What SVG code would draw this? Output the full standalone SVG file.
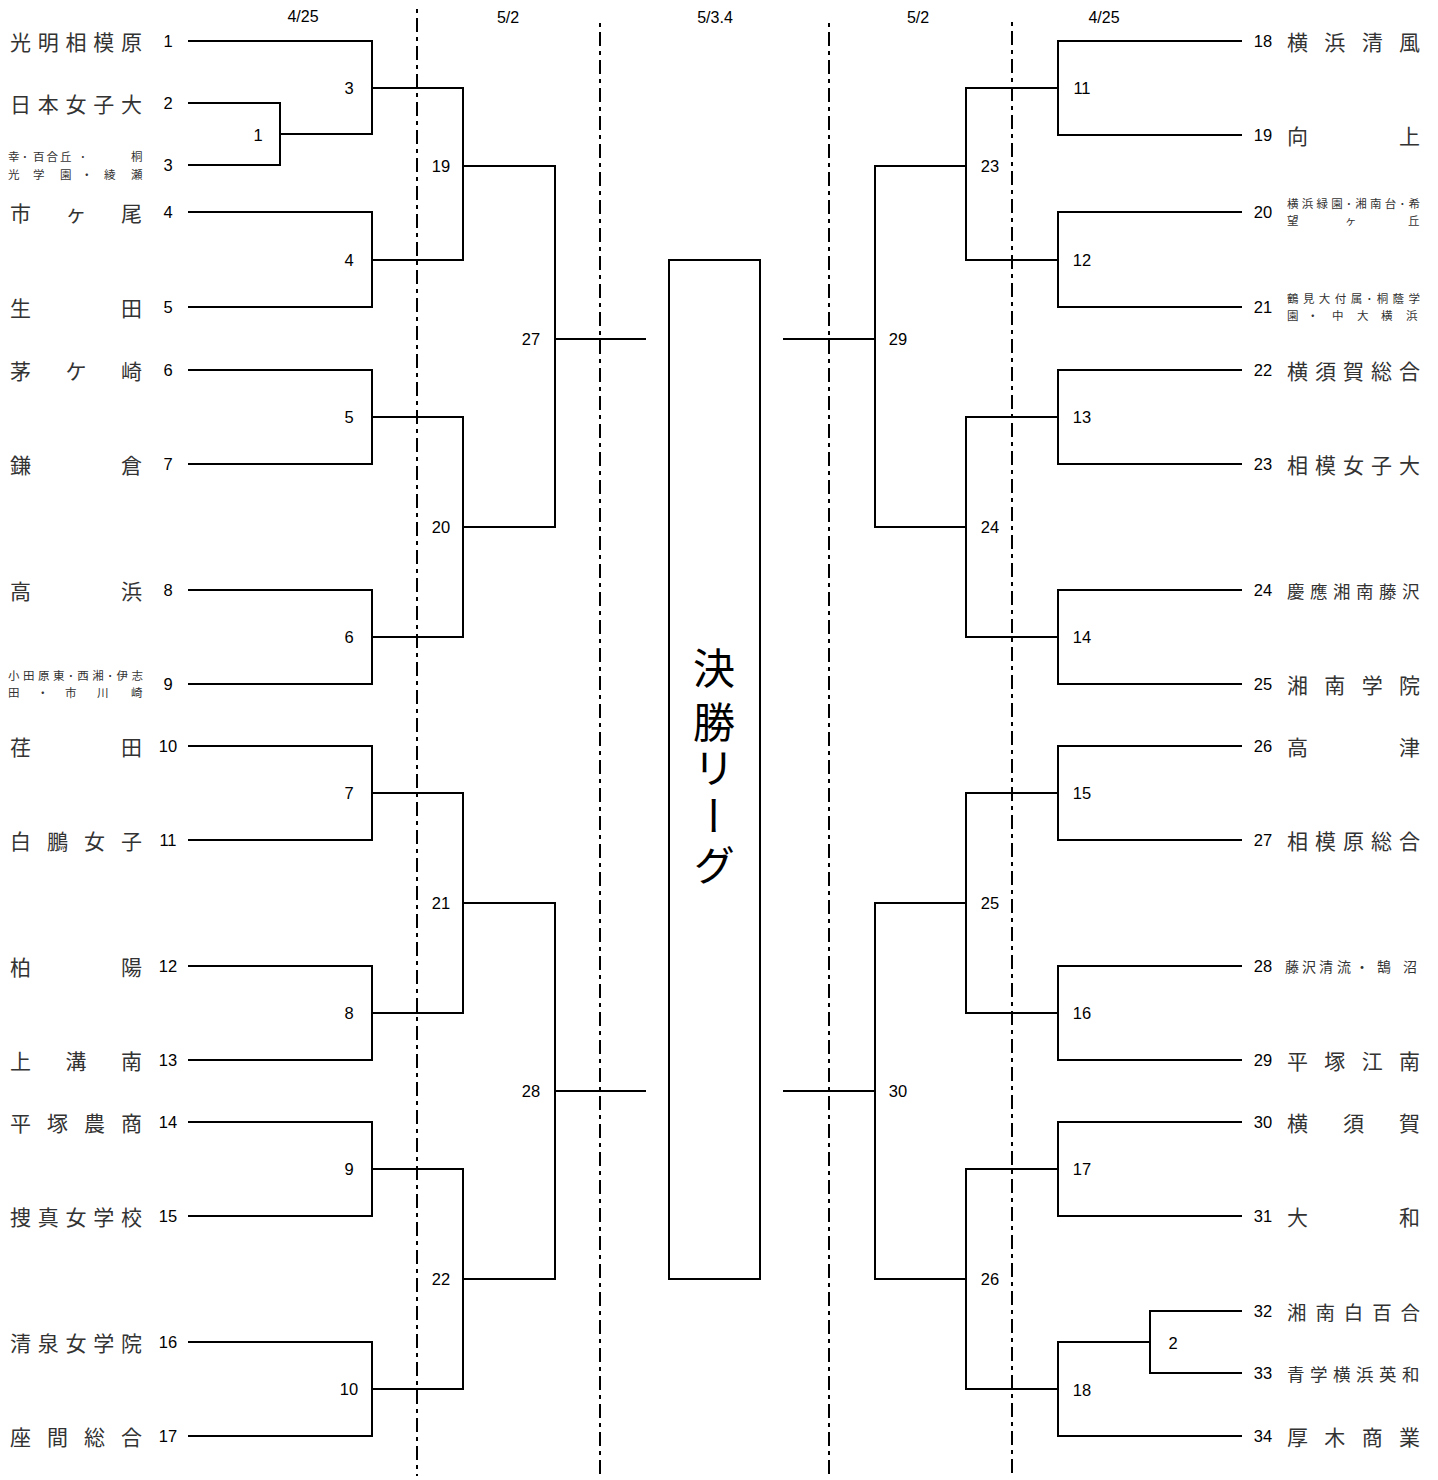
<svg xmlns="http://www.w3.org/2000/svg" width="1438" height="1480" viewBox="0 0 1438 1480">
<style>
.ln{fill:none;stroke:#000;stroke-width:2}
.dd{fill:none;stroke:#000;stroke-width:2;stroke-dasharray:4 5 14 5}
.num{font-family:"Liberation Sans",Arial,sans-serif;font-size:16.5px;fill:#000;text-anchor:middle;dominant-baseline:central}
.nm{font-family:"Noto Sans CJK JP","Noto Sans CJK SC",sans-serif;font-size:21px;fill:#333;dominant-baseline:central}
.sm{font-family:"Noto Sans CJK JP","Noto Sans CJK SC",sans-serif;font-size:11.5px;fill:#333;dominant-baseline:central}
.hd{font-family:"Liberation Sans",Arial,sans-serif;font-size:16px;fill:#000;text-anchor:middle;dominant-baseline:central}
</style>
<rect width="1438" height="1480" fill="#fff"/>
<g id="round-lines">
<path class="dd" d="M417 9V1476"/>
<path class="dd" d="M600 23V1476"/>
<path class="dd" d="M829 23V1476"/>
<path class="dd" d="M1012 22V1476"/>
</g>
<g id="headers">
<text class="hd" x="303" y="16">4/25</text>
<text class="hd" x="508" y="17">5/2</text>
<text class="hd" x="715" y="17">5/3.4</text>
<text class="hd" x="918" y="17">5/2</text>
<text class="hd" x="1104" y="17">4/25</text>
</g>
<g id="connectors">
<path class="ln" d="M188 41H372V134H280"/>
<path class="ln" d="M188 103H280V165H188"/>
<path class="ln" d="M188 212H372V307H188"/>
<path class="ln" d="M372 88H463V260H372"/>
<path class="ln" d="M463 166H555V527H463"/>
<path class="ln" d="M555 339H646"/>
<path class="ln" d="M188 370H372V464H188"/>
<path class="ln" d="M188 590H372V684H188"/>
<path class="ln" d="M372 417H463V637H372"/>
<path class="ln" d="M188 746H372V840H188"/>
<path class="ln" d="M188 966H372V1060H188"/>
<path class="ln" d="M372 793H463V1013H372"/>
<path class="ln" d="M188 1122H372V1216H188"/>
<path class="ln" d="M188 1342H372V1436H188"/>
<path class="ln" d="M372 1169H463V1389H372"/>
<path class="ln" d="M463 903H555V1279H463"/>
<path class="ln" d="M555 1091H646"/>
<path class="ln" d="M1242 41H1058V135H1242"/>
<path class="ln" d="M1242 212H1058V307H1242"/>
<path class="ln" d="M1058 88H966V260H1058"/>
<path class="ln" d="M966 166H875V527H966"/>
<path class="ln" d="M875 339H783"/>
<path class="ln" d="M1242 370H1058V464H1242"/>
<path class="ln" d="M1242 590H1058V684H1242"/>
<path class="ln" d="M1058 417H966V637H1058"/>
<path class="ln" d="M1242 746H1058V840H1242"/>
<path class="ln" d="M1242 966H1058V1060H1242"/>
<path class="ln" d="M1058 793H966V1013H1058"/>
<path class="ln" d="M966 903H875V1279H966"/>
<path class="ln" d="M875 1091H783"/>
<path class="ln" d="M1242 1122H1058V1216H1242"/>
<path class="ln" d="M1242 1311H1150V1373H1242"/>
<path class="ln" d="M1150 1342H1058V1436H1242"/>
<path class="ln" d="M1058 1169H966V1389H1058"/>
</g>
<g id="final-league">
<rect x="669" y="260" width="91" height="1019" fill="#fff" stroke="#000" stroke-width="2"/>
<text x="714" y="647 701 747 795 844" style="writing-mode:vertical-rl" font-family="'Noto Sans CJK JP','Noto Sans CJK SC',sans-serif" font-size="42" fill="#000">決勝リーグ</text>
</g>
<g id="match-labels">
<text class="num" x="258" y="135">1</text>
<text class="num" x="349" y="88">3</text>
<text class="num" x="349" y="260">4</text>
<text class="num" x="349" y="417">5</text>
<text class="num" x="349" y="637">6</text>
<text class="num" x="349" y="793">7</text>
<text class="num" x="349" y="1013">8</text>
<text class="num" x="349" y="1169">9</text>
<text class="num" x="349" y="1389">10</text>
<text class="num" x="441" y="166">19</text>
<text class="num" x="441" y="527">20</text>
<text class="num" x="441" y="903">21</text>
<text class="num" x="441" y="1279">22</text>
<text class="num" x="531" y="339">27</text>
<text class="num" x="531" y="1091">28</text>
<text class="num" x="1082" y="88">11</text>
<text class="num" x="1082" y="260">12</text>
<text class="num" x="1082" y="417">13</text>
<text class="num" x="1082" y="637">14</text>
<text class="num" x="1082" y="793">15</text>
<text class="num" x="1082" y="1013">16</text>
<text class="num" x="1082" y="1169">17</text>
<text class="num" x="1082" y="1390">18</text>
<text class="num" x="1173" y="1343">2</text>
<text class="num" x="990" y="166">23</text>
<text class="num" x="990" y="527">24</text>
<text class="num" x="990" y="903">25</text>
<text class="num" x="990" y="1279">26</text>
<text class="num" x="898" y="339">29</text>
<text class="num" x="898" y="1091">30</text>
</g>
<g id="team-1"><text class="nm" x="10 37.75 65.5 93.25 121" y="41">光明相模原</text><text class="num" x="168" y="41">1</text></g>
<g id="team-2"><text class="nm" x="10 37.75 65.5 93.25 121" y="103">日本女子大</text><text class="num" x="168" y="103">2</text></g>
<g id="team-3"><text class="sm" x="8 22 33 46.5 60 80 131" y="156">幸･百合丘･桐</text><text class="sm" x="8 33 60 81 104 131" y="173.5">光学園・綾瀬</text><text class="num" x="168" y="165">3</text></g>
<g id="team-4"><text class="nm" x="10 65.5 121" y="212">市ヶ尾</text><text class="num" x="168" y="212">4</text></g>
<g id="team-5"><text class="nm" x="10 121" y="307">生田</text><text class="num" x="168" y="307">5</text></g>
<g id="team-6"><text class="nm" x="10 65.5 121" y="370">茅ケ崎</text><text class="num" x="168" y="370">6</text></g>
<g id="team-7"><text class="nm" x="10 121" y="464">鎌倉</text><text class="num" x="168" y="464">7</text></g>
<g id="team-8"><text class="nm" x="10 121" y="590">高浜</text><text class="num" x="168" y="590">8</text></g>
<g id="team-9"><text class="sm" x="8" y="674.5" textLength="135" lengthAdjust="spacing">小田原東･西湘･伊志</text><text class="sm" x="8 37 65 97 131" y="692">田・市川崎</text><text class="num" x="168" y="684">9</text></g>
<g id="team-10"><text class="nm" x="10 121" y="746">荏田</text><text class="num" x="168" y="746">10</text></g>
<g id="team-11"><text class="nm" x="10 47 84 121" y="840">白鵬女子</text><text class="num" x="168" y="840">11</text></g>
<g id="team-12"><text class="nm" x="10 121" y="966">柏陽</text><text class="num" x="168" y="966">12</text></g>
<g id="team-13"><text class="nm" x="10 65.5 121" y="1060">上溝南</text><text class="num" x="168" y="1060">13</text></g>
<g id="team-14"><text class="nm" x="10 47 84 121" y="1122">平塚農商</text><text class="num" x="168" y="1122">14</text></g>
<g id="team-15"><text class="nm" x="10 37.75 65.5 93.25 121" y="1216">捜真女学校</text><text class="num" x="168" y="1216">15</text></g>
<g id="team-16"><text class="nm" x="10 37.75 65.5 93.25 121" y="1342">清泉女学院</text><text class="num" x="168" y="1342">16</text></g>
<g id="team-17"><text class="nm" x="10 47 84 121" y="1436">座間総合</text><text class="num" x="168" y="1436">17</text></g>
<g id="team-18"><text class="num" x="1263" y="41">18</text><text class="nm" x="1287 1324.3 1361.7 1399" y="41">横浜清風</text></g>
<g id="team-19"><text class="num" x="1263" y="135">19</text><text class="nm" x="1287 1399" y="135">向上</text></g>
<g id="team-20"><text class="num" x="1263" y="212">20</text><text class="sm" x="1287" y="202.5" textLength="133" lengthAdjust="spacing">横浜緑園･湘南台･希</text><text class="sm" x="1287 1345 1408" y="220">望ヶ丘</text></g>
<g id="team-21"><text class="num" x="1263" y="307">21</text><text class="sm" x="1287" y="297.5" textLength="133" lengthAdjust="spacing">鶴見大付属･桐蔭学</text><text class="sm" x="1287 1307 1332 1357 1381 1406" y="315">園・中大横浜</text></g>
<g id="team-22"><text class="num" x="1263" y="370">22</text><text class="nm" x="1287 1315 1343 1371 1399" y="370">横須賀総合</text></g>
<g id="team-23"><text class="num" x="1263" y="464">23</text><text class="nm" x="1287 1315 1343 1371 1399" y="464">相模女子大</text></g>
<g id="team-24"><text class="num" x="1263" y="590">24</text><text class="nm" style="font-size:17.5px" x="1287 1310 1333 1356 1379 1402" y="590">慶應湘南藤沢</text></g>
<g id="team-25"><text class="num" x="1263" y="684">25</text><text class="nm" x="1287 1324.3 1361.7 1399" y="684">湘南学院</text></g>
<g id="team-26"><text class="num" x="1263" y="746">26</text><text class="nm" x="1287 1399" y="746">高津</text></g>
<g id="team-27"><text class="num" x="1263" y="840">27</text><text class="nm" x="1287 1315 1343 1371 1399" y="840">相模原総合</text></g>
<g id="team-28"><text class="num" x="1263" y="966">28</text><text class="nm" style="font-size:14px" x="1285 1302 1319 1337 1355 1377 1403" y="966">藤沢清流・鵠沼</text></g>
<g id="team-29"><text class="num" x="1263" y="1060">29</text><text class="nm" x="1287 1324.3 1361.7 1399" y="1060">平塚江南</text></g>
<g id="team-30"><text class="num" x="1263" y="1122">30</text><text class="nm" x="1287 1343 1399" y="1122">横須賀</text></g>
<g id="team-31"><text class="num" x="1263" y="1216">31</text><text class="nm" x="1287 1399" y="1216">大和</text></g>
<g id="team-32"><text class="num" x="1263" y="1311">32</text><text class="nm" style="font-size:19.5px" x="1287 1315.4 1343.8 1372.2 1400.5" y="1311">湘南白百合</text></g>
<g id="team-33"><text class="num" x="1263" y="1373">33</text><text class="nm" style="font-size:17.5px" x="1287 1310 1333 1356 1379 1402" y="1373">青学横浜英和</text></g>
<g id="team-34"><text class="num" x="1263" y="1436">34</text><text class="nm" x="1287 1324.3 1361.7 1399" y="1436">厚木商業</text></g>
</svg>
